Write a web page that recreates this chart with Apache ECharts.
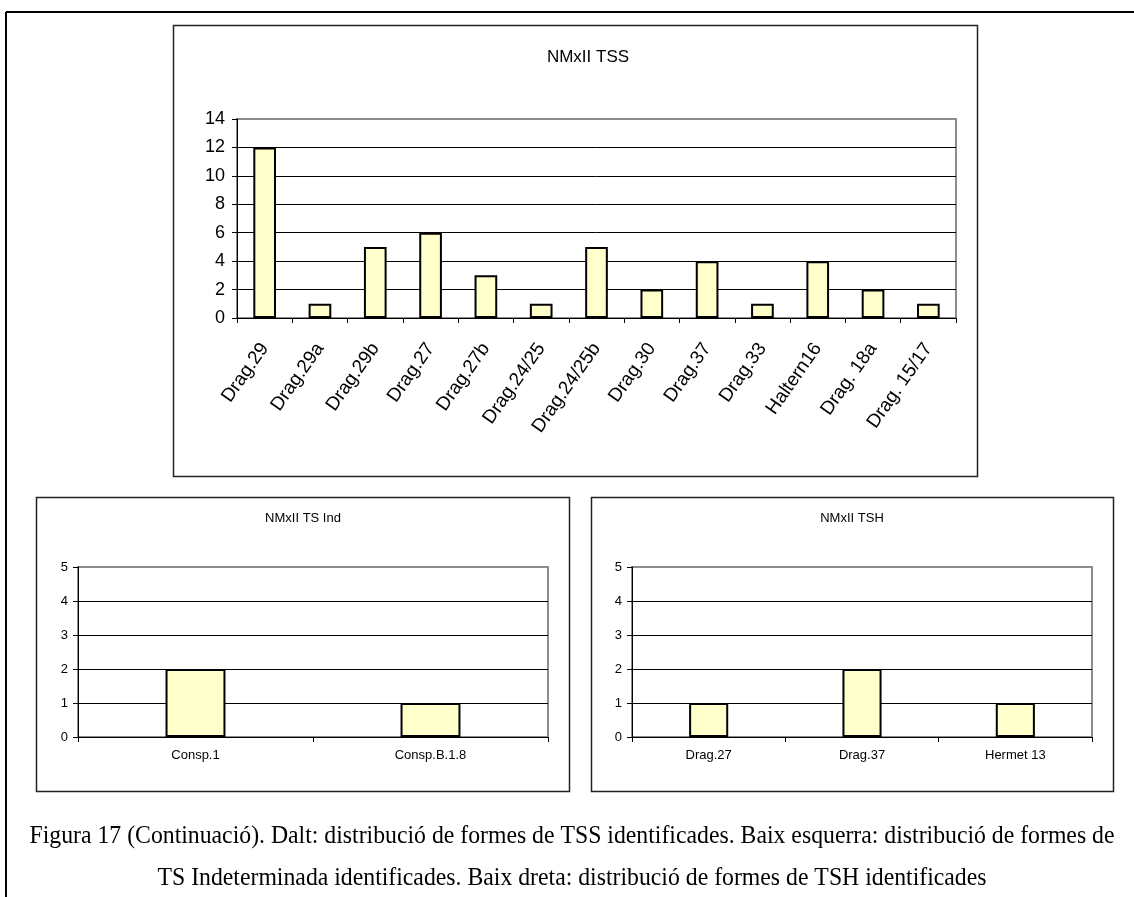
<!DOCTYPE html>
<html><head><meta charset="utf-8">
<script src="https://cdn.jsdelivr.net/npm/echarts@6/dist/echarts.min.js"></script>
<style>html,body{margin:0;padding:0;background:#fff}#c{width:1134px;height:897px}</style>
</head><body><div id="c"></div>
<script>
// ---- data ----
const tssCategories = ['Drag.29','Drag.29a','Drag.29b','Drag.27','Drag.27b','Drag.24/25','Drag.24/25b','Drag.30','Drag.37','Drag.33','Haltern16','Drag. 18a','Drag. 15/17'];
const tssValues = [12, 1, 5, 6, 3, 1, 5, 2, 4, 1, 4, 2, 1];
const tssAxis = { min: 0, max: 14, interval: 2 };

const indCategories = ['Consp.1', 'Consp.B.1.8'];
const indValues = [2, 1];

const tshCategories = ['Drag.27', 'Drag.37', 'Hermet 13'];
const tshValues = [1, 2, 1];

const smallAxis = { min: 0, max: 5, interval: 1 };

const chartTitles = ['NMxII TSS', 'NMxII TS Ind', 'NMxII TSH'];
const captionLines = [
  'Figura 17 (Continuació). Dalt: distribució de formes de TSS identificades. Baix esquerra: distribució de formes de',
  'TS Indeterminada identificades. Baix dreta: distribució de formes de TSH identificades'
];

// ---- chart ----
const SANS = "'Liberation Sans', Arial, sans-serif";
const SERIF = "'Liberation Serif', 'Times New Roman', serif";
const BAR_FILL = '#FFFFCC';

const grids = [
  { left: 237, top: 119, width: 719, height: 199 },
  { left: 78,  top: 567, width: 470, height: 170 },
  { left: 632, top: 567, width: 460, height: 170 }
];

function gridOpt(g) {
  return Object.assign({ show: true, borderColor: '#8c8c8c', borderWidth: 2, backgroundColor: 'transparent',
    containLabel: false, outerBoundsMode: 'none' }, g);
}

function xAxisOpt(i, cats, fs, rotate, margin) {
  return {
    type: 'category', gridIndex: i, data: cats, boundaryGap: true,
    axisLine: { show: true, onZero: false, lineStyle: { color: '#000', width: 1 } },
    axisTick: { show: true, length: 5, inside: false, lineStyle: { color: '#000', width: 1 } },
    axisLabel: { show: true, interval: 0, rotate: rotate, margin: margin, color: '#000', fontFamily: SANS, fontSize: fs },
    splitLine: { show: false }
  };
}
function yAxisOpt(i, ax, fs, margin) {
  return {
    type: 'value', gridIndex: i, min: ax.min, max: ax.max, interval: ax.interval,
    axisLine: { show: true, lineStyle: { color: '#000', width: 1 } },
    axisTick: { show: true, length: 5, inside: false, lineStyle: { color: '#000', width: 1 } },
    axisLabel: { show: true, margin: margin, color: '#000', fontFamily: SANS, fontSize: fs },
    splitLine: { show: true, showMinLine: false, showMaxLine: false, lineStyle: { color: '#000', width: 1 } }
  };
}
function barSeries(i, vals, bw) {
  return {
    type: 'bar', xAxisIndex: i, yAxisIndex: i, data: vals, barWidth: bw, silent: true,
    itemStyle: { color: BAR_FILL, borderColor: '#000', borderWidth: 2 },
    animation: false
  };
}

const boxes = [
  { x: 173, y: 25, w: 804, h: 451, title: chartTitles[0], ty: 57, tfs: 17, tx: 588 },
  { x: 36, y: 497, w: 533, h: 294, title: chartTitles[1], ty: 518, tfs: 13, tx: 303 },
  { x: 591, y: 497, w: 522, h: 294, title: chartTitles[2], ty: 518, tfs: 13, tx: 852 }
];

// caption sizing
const capFont = '25px ' + SERIF;
const mctx = document.createElement('canvas').getContext('2d');
mctx.font = capFont;
const capW = mctx.measureText(captionLines[0]).width;
const capScale = Math.min(1.05, 1085 / capW);

const graphics = [];
graphics.push({ type: 'line', shape: { x1: 6, y1: 12, x2: 1134, y2: 12 }, style: { stroke: '#000', lineWidth: 2 }, z: 10 });
graphics.push({ type: 'line', shape: { x1: 6, y1: 12, x2: 6, y2: 897 }, style: { stroke: '#000', lineWidth: 2 }, z: 10 });
boxes.forEach(b => {
  graphics.push({ type: 'rect', shape: { x: b.x + 0.5, y: b.y + 0.5, width: b.w, height: b.h }, style: { fill: 'none', stroke: '#222', lineWidth: 1.5 }, z: 10 });
  graphics.push({ type: 'text', x: b.tx, y: b.ty, style: { text: b.title, fill: '#000', font: b.tfs + 'px ' + SANS, textAlign: 'center', textVerticalAlign: 'middle' }, z: 10 });
});
captionLines.forEach((t, k) => {
  graphics.push({ type: 'text', x: 572, y: 836 + k * 42, scaleX: capScale, style: { text: t, fill: '#000', font: capFont, textAlign: 'center', textVerticalAlign: 'middle' }, z: 10 });
});

const option = {
  animation: false,
  backgroundColor: '#fff',
  grid: grids.map(gridOpt),
  xAxis: [
    xAxisOpt(0, tssCategories, 19, 55, 27),
    xAxisOpt(1, indCategories, 13, 0, 12),
    xAxisOpt(2, tshCategories, 13, 0, 12)
  ],
  yAxis: [
    yAxisOpt(0, tssAxis, 18, 12),
    yAxisOpt(1, smallAxis, 13, 10),
    yAxisOpt(2, smallAxis, 13, 10)
  ],
  series: [
    barSeries(0, tssValues, '41%'),
    barSeries(1, indValues, '25.5%'),
    barSeries(2, tshValues, '25.5%')
  ],
  graphic: graphics
};

const chart = echarts.init(document.getElementById('c'), null, { renderer: 'canvas' });
chart.setOption(option);
</script>
</body></html>
